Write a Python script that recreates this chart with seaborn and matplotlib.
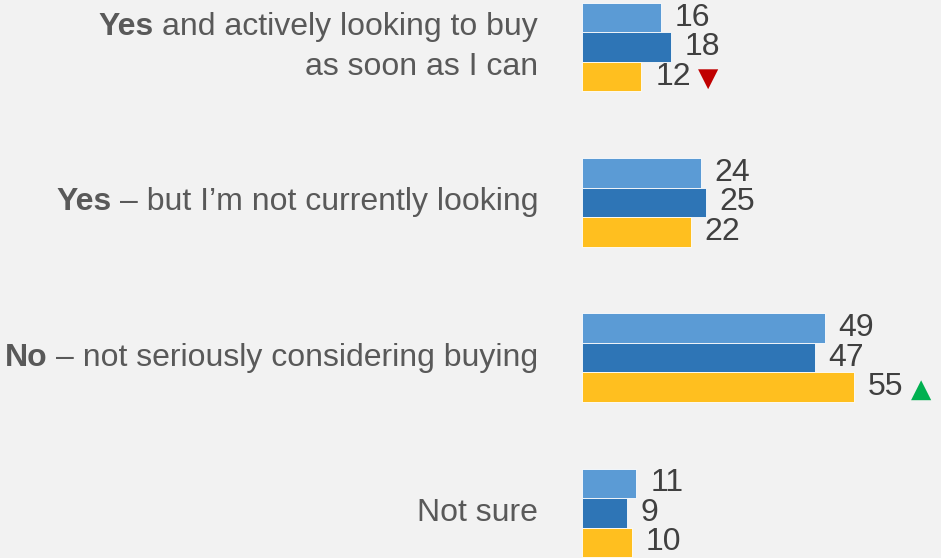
import pandas as pd
import matplotlib.pyplot as plt
import seaborn as sns

# Data
answers = ["Yes and actively looking to buy as soon as I can",
           "Yes - but I'm not currently looking",
           "No - not seriously considering buying",
           "Not sure"]
bold_parts = ["Yes", "Yes", "No", ""]
rest_parts = ["and actively looking to buy\nas soon as I can",
              "\u2013 but I\u2019m not currently looking",
              "\u2013 not seriously considering buying",
              "Not sure"]
waves = ["Wave 1", "Wave 2", "Wave 3"]
wave1 = [16, 24, 49, 11]
wave2 = [18, 25, 47, 9]
wave3 = [12, 22, 55, 10]
wave3_change = ["down", None, "up", None]

colors = ["#5B9BD5", "#2E75B6", "#FFBF1F"]
BG = "#F2F2F2"

df = pd.DataFrame({
    "answer": answers * 3,
    "pct": wave1 + wave2 + wave3,
    "wave": [w for w in waves for _ in answers],
})

sns.set_theme(style="white")
plt.rcParams["font.family"] = ["Liberation Sans", "DejaVu Sans"]

fig = plt.figure(figsize=(9.41, 5.58), dpi=100, facecolor=BG)
ax = fig.add_axes([582 / 941, 0, 1 - 582 / 941, 1])
ax.set_facecolor(BG)

sns.barplot(data=df, y="answer", x="pct", hue="wave", orient="h",
            palette=colors, saturation=1, width=0.57, legend=False,
            edgecolor="white", linewidth=0.6, ax=ax)

ax.set_xlim(0, 72.5)
ax.set_ylim(3.29, -0.303)
ax.set_xlabel("")
ax.set_ylabel("")
ax.set_xticks([])
sns.despine(ax=ax, left=True, bottom=True)

ax.set_yticks(range(len(answers)))
ax.set_yticklabels(rest_parts, fontsize=23, color="#595959", linespacing=1.4)
ax.tick_params(axis="y", length=0, pad=31.5)
for tl in ax.get_yticklabels():
    tl.set_va("center")

# value labels
labels = []
for cont in ax.containers:
    labels.append(ax.bar_label(cont, padding=10, fontsize=23, color="#404040"))

fig.canvas.draw()

# bold lead words in front of the tick labels
for tl, b in zip(ax.get_yticklabels(), bold_parts):
    if not b:
        continue
    ax.annotate(b, xy=(0, 1), xycoords=tl, xytext=(-6, 0),
                textcoords="offset points", ha="right", va="top",
                fontsize=23, fontweight="bold", color="#595959",
                annotation_clip=False)

# change markers next to latest wave labels
for lab, ch in zip(labels[2], wave3_change):
    if ch is None:
        continue
    sym = "\u25BC" if ch == "down" else "\u25B2"
    col = "#C00000" if ch == "down" else "#00B050"
    ax.annotate(sym, xy=(1, 0.42), xycoords=lab, xytext=(5, 0),
                textcoords="offset points", ha="left", va="center",
                fontsize=19, color=col, family="DejaVu Sans",
                annotation_clip=False)

fig.savefig("out.png", dpi=100, facecolor=BG)
